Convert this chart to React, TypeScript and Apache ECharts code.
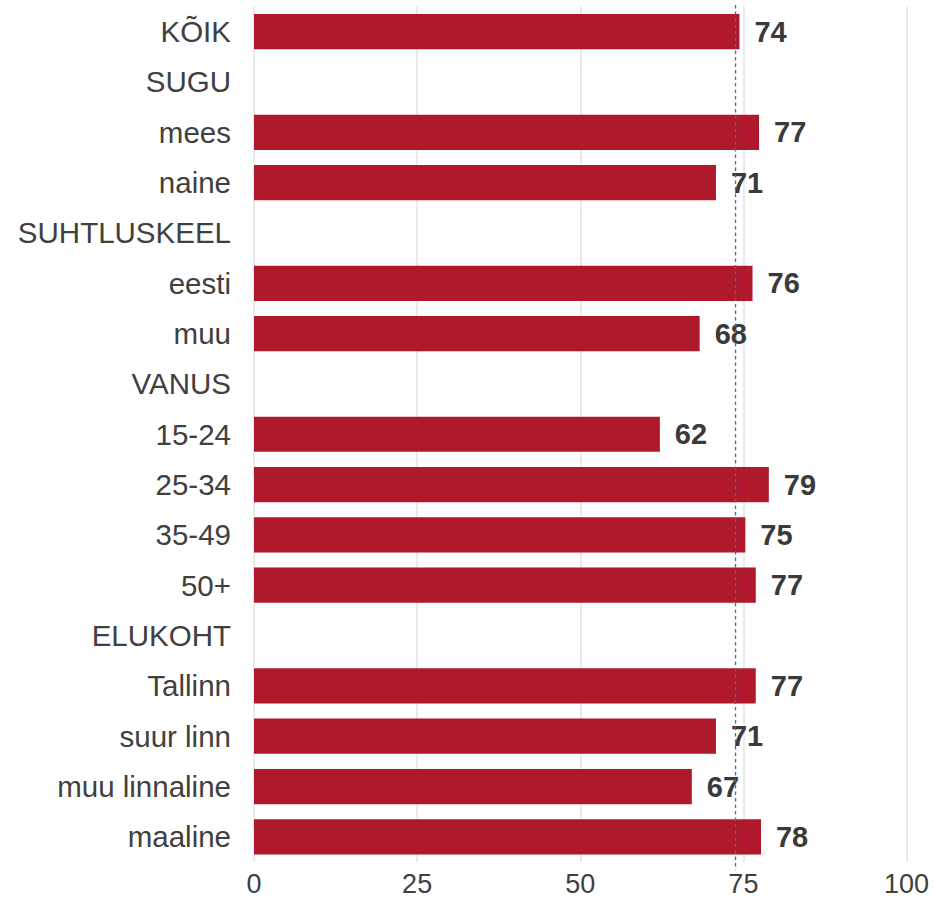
import React, { useEffect, useRef } from "react";
import * as echarts from "echarts";

const categories = [
  "KÕIK",
  "SUGU",
  "mees",
  "naine",
  "SUHTLUSKEEL",
  "eesti",
  "muu",
  "VANUS",
  "15-24",
  "25-34",
  "35-49",
  "50+",
  "ELUKOHT",
  "Tallinn",
  "suur linn",
  "muu linnaline",
  "maaline",
];

const values: (number | null)[] = [
  74.4, null, 77.4, 70.8, null, 76.4, 68.3, null, 62.2, 78.9, 75.3, 76.9, null, 76.9, 70.8, 67.1, 77.7,
];

const referenceValue = 73.8;
const xTicks = { min: 0, max: 100, interval: 25 };

export default function App() {
  const ref = useRef<HTMLDivElement>(null);
  useEffect(() => {
    if (!ref.current) return;
    const chart = echarts.init(ref.current, null, { renderer: "svg" });
    const font = "'Liberation Sans', Arial, Helvetica, sans-serif";
    chart.setOption({
      animation: false,
      backgroundColor: "#ffffff",
      grid: {
        left: 254,
        right: 28.5,
        top: 6.5,
        bottom: 37,
        containLabel: false,
        outerBoundsMode: "none",
      },
      xAxis: {
        type: "value",
        min: xTicks.min,
        max: xTicks.max,
        interval: xTicks.interval,
        axisLine: { show: false },
        axisTick: { show: false },
        splitLine: { show: true, lineStyle: { color: "#e3e3e3", width: 1.5 } },
        axisLabel: {
          color: "#404040",
          fontSize: 27,
          lineHeight: 22,
          fontFamily: font,
          margin: 11,
        },
      },
      yAxis: {
        type: "category",
        data: categories,
        inverse: true,
        axisLine: { show: false },
        axisTick: { show: false },
        splitLine: { show: false },
        axisLabel: {
          color: "#404040",
          fontSize: 29.5,
          fontFamily: font,
          margin: 23,
        },
      },
      series: [
        {
          type: "bar",
          data: values,
          barCategoryGap: "30%",
          itemStyle: { color: "#b0182b" },
          label: {
            show: true,
            position: "right",
            distance: 15,
            color: "#3a3a3a",
            fontSize: 29,
            fontWeight: "bold",
            fontFamily: font,
            formatter: (p: any) => (p.value == null ? "" : String(Math.round(p.value))),
          },
        },
      ],
    });
    const x = chart.convertToPixel({ xAxisIndex: 0 }, referenceValue) as number;
    chart.setOption({
      graphic: [
        {
          type: "line",
          shape: { x1: x, y1: 5, x2: x, y2: 870 },
          style: { stroke: "#3470b8", lineWidth: 1.3, lineDash: [3.5, 3] },
          z: 100,
        },
      ],
    });
    return () => chart.dispose();
  }, []);
  return (
    <div
      ref={ref}
      style={{ position: "absolute", left: 0, top: 0, width: 935, height: 899 }}
    />
  );
}
